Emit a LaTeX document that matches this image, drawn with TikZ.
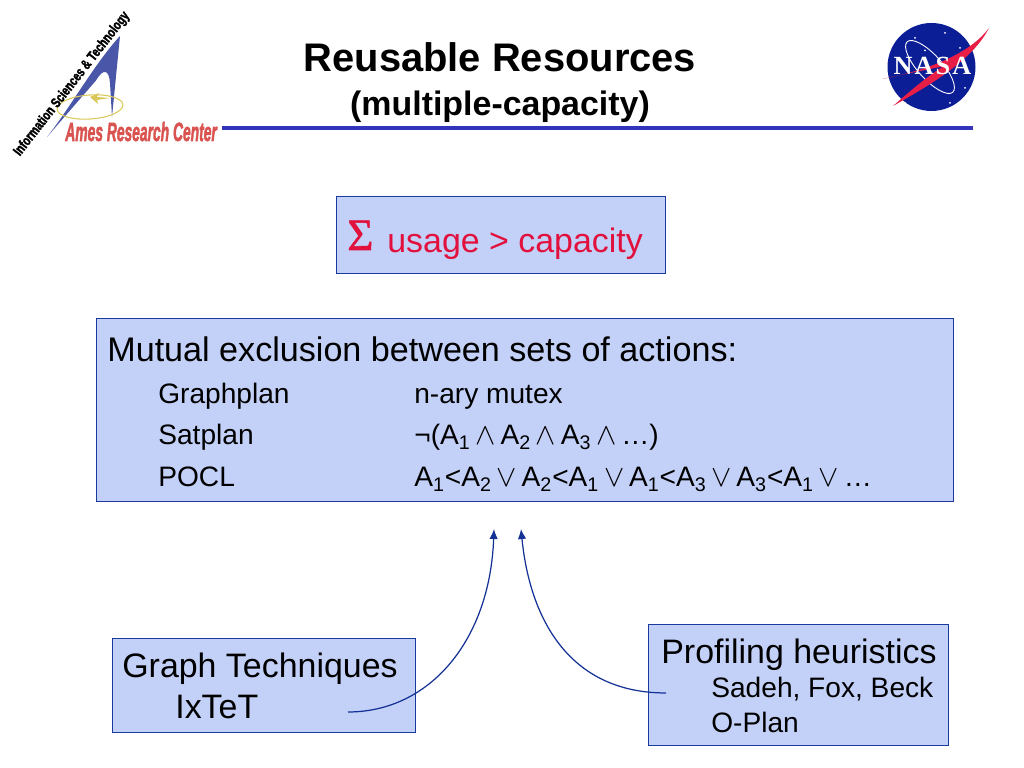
\documentclass[tikz,border=0pt]{standalone}
\usepackage{fontspec}
\setmainfont{Liberation Sans}
\newfontfamily\logoserif{Liberation Serif}
\newfontfamily\logoheavy[FakeBold=2.5]{Liberation Sans}
\newfontfamily\sumfont[FakeBold=1.2]{Liberation Serif}
\usetikzlibrary{arrows.meta}
\definecolor{boxfill}{RGB}{195,209,248}
\definecolor{boxline}{RGB}{26,58,156}
\definecolor{arrowblue}{RGB}{20,50,150}
\definecolor{sumred}{RGB}{226,16,60}
\definecolor{barblue}{RGB}{51,51,187}
\definecolor{amesred}{RGB}{217,84,80}
\definecolor{amesblue}{RGB}{74,87,168}
\definecolor{amesgold}{RGB}{218,200,90}
\definecolor{nasablue}{RGB}{12,30,150}
\definecolor{nasared}{RGB}{232,30,70}
\newcommand{\ind}[1]{\textsubscript{#1}}
\newcommand{\tightwords}{\spaceskip=0.17em\relax}
\tikzset{
	panel/.style={draw=boxline,fill=boxfill,line width=0.8pt,inner sep=0pt},
	body/.style={anchor=base west,inner sep=0pt,font=\fontsize{19.3}{22}\selectfont},
	small/.style={anchor=base west,inner sep=0pt,font=\fontsize{16}{18}\selectfont},
	formula/.style={anchor=base west,inner sep=0pt,font=\fontsize{16}{18}\selectfont\tightwords},
	heading/.style={anchor=base,inner sep=0pt,font=\bfseries\fontsize{22.7}{26}\selectfont},
	curved/.style={-{Latex[length=5.7pt,width=4.8pt]},arrowblue,line width=0.7pt}
}
\begin{document}
\begin{tikzpicture}
	\useasboundingbox (0,0) rectangle (20.48,15.36);
	% Ames logo
	\fill [amesblue] (2.4,14.64) -- (2.24,13.02) -- (2.2,13.7) .. controls (2.18,13.95) and (2.08,14.02) .. (1.92,13.75) -- (0.94,12.62) .. controls (1.4,13.2) and (1.9,14.1) .. (2.4,14.64) -- cycle;
	\draw [rotate around={4:(1.8,13.22)},draw=amesgold,line width=0.6pt] (1.8,13.22) ellipse (0.66 and 0.24);
	\fill [amesgold] (1.8,13.42) -- (1.98,13.5) -- (1.94,13.42) -- (2.2,13.4) -- (1.94,13.36) -- (1.96,13.28) -- cycle;
	\node [anchor=base west,inner sep=0pt,amesred,font=\logoheavy\bfseries\itshape\fontsize{15}{16}\selectfont] (amestext) at (1.3,12.54) {\scalebox{0.525}[1]{Ames Research Center}};
	\node [rotate=52,inner sep=0pt,font=\logoheavy\bfseries\fontsize{8}{9}\selectfont] (iststext) at (1.44,13.68) {\scalebox{0.75}[1]{Information Sciences \& Technology}};
	% Title bar
	\fill [barblue] (4.44,12.76) rectangle (19.45,12.84);
	\node [heading] (title) at (10,13.92) {Reusable Resources};
	\node [heading,font=\bfseries\fontsize{19.3}{22}\selectfont] (subtitle) at (10,13.04) {(multiple-capacity)};
	% NASA logo
	\fill [nasablue] (18.63,14.02) circle (0.88);
	\draw [white,line width=0.5pt,rotate around={-48:(18.6,14.02)}] (18.6,14.02) ellipse (0.68 and 0.24);
	\fill [nasared] (19.78,14.8) .. controls (19.45,14.35) and (18.7,13.98) .. (17.64,13.78) .. controls (18.2,13.9) and (18.6,13.98) .. (18.86,14.03) .. controls (18.5,13.8) and (18.1,13.45) .. (17.86,13.24) .. controls (18.6,13.66) and (19.45,14.15) .. (19.78,14.8) -- cycle;
	\foreach \sx/\sy in {18.3/14.6,18.9/14.7,19.2/14.4,18.1/13.3,19.0/13.3,19.3/13.6,18.5/14.35}
		\fill [white] (\sx,\sy) circle (0.02);
	\node [anchor=base,inner sep=0pt,white,font=\logoserif\bfseries\fontsize{14.9}{16}\selectfont] (nasatext) at (18.65,13.86) {N\kern1.2pt A\kern1.2pt S\kern1.2pt A};
	% Sum box
	\node [panel,minimum width=6.58cm,minimum height=1.54cm,anchor=south west] (sumbox) at (6.72,9.88) {};
	\node [anchor=base west,inner sep=0pt,sumred,font=\sumfont\fontsize{25.5}{27}\selectfont] (sumsign) at (6.94,10.36) {Σ};
	\node [body,sumred] (sumtext) at (7.74,10.3) {usage > capacity};
	% Mutual exclusion box
	\node [panel,minimum width=17.14cm,minimum height=3.66cm,anchor=south west] (mutexbox) at (1.92,5.32) {};
	\node [body,font=\fontsize{19.42}{22}\selectfont] (mutexhead) at (2.14,8.12) {Mutual exclusion between sets of actions:};
	\node [small] (graphplan) at (3.16,7.28) {Graphplan};
	\node [small] (satplan) at (3.16,6.46) {Satplan};
	\node [small] (pocl) at (3.16,5.62) {POCL};
	\node [small] (graphplanf) at (8.28,7.28) {n-ary mutex};
	\node [formula] (satplanf) at (8.28,6.46) {¬(A\ind{1} $\wedge$ A\ind{2} $\wedge$ A\ind{3} $\wedge$ …)};
	\node [formula] (poclf) at (8.28,5.62) {A\ind{1}<A\ind{2} $\vee$ A\ind{2}<A\ind{1} $\vee$ A\ind{1}<A\ind{3} $\vee$ A\ind{3}<A\ind{1} $\vee$ …};
	% Graph box
	\node [panel,minimum width=6.06cm,minimum height=1.88cm,anchor=south west] (graphbox) at (2.24,0.7) {};
	\node [body] (graphtext) at (2.44,1.8) {Graph Techniques};
	\node [body] (ixtet) at (3.5,0.98) {IxTeT};
	% Profiling box
	\node [panel,minimum width=6cm,minimum height=2.42cm,anchor=south west] (profbox) at (12.96,0.44) {};
	\node [body] (proftext) at (13.22,2.08) {Profiling heuristics};
	\node [small] (sadeh) at (14.22,1.4) {Sadeh, Fox, Beck};
	\node [small] (oplan) at (14.22,0.7) {O-Plan};
	% Arrows
	\coordinate (graphtail) at (6.96,1.12);
	\coordinate (proftail) at (13.32,1.5);
	\coordinate (graphtip) at (9.88,4.78);
	\coordinate (proftip) at (10.42,4.78);
	\draw [curved] (graphtail) .. controls (8.6,1.12) and (9.8,2.56) .. (graphtip);
	\draw [curved] (proftail) .. controls (11.4,1.5) and (10.6,2.96) .. (proftip);
\end{tikzpicture}
\end{document}
